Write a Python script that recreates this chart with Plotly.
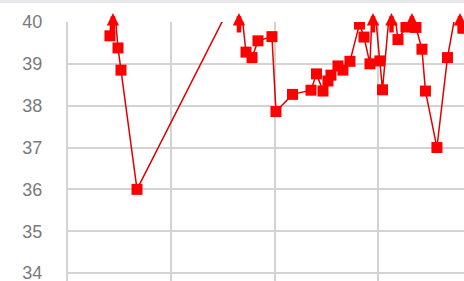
import plotly.graph_objects as go

# x positions (arbitrary numeric units; gridlines every 10)
x_vals = [4.06, 4.35, 4.84, 5.13, 6.68, 16.55, 17.23, 17.81, 18.39, 19.74, 20.13,
          21.73, 23.52, 24.05, 24.68, 25.16, 25.45, 26.13, 26.61, 27.29, 28.21,
          28.65, 29.23, 29.52, 30.19, 30.44, 31.31, 31.94, 32.71, 33.29, 33.68,
          34.26, 34.60, 35.71, 36.73, 37.94, 38.23]
y_vals = [39.67, 40.8, 39.38, 38.85, 36.0, 40.8, 39.28, 39.15, 39.55, 39.65, 37.86,
          38.27, 38.37, 38.76, 38.35, 38.59, 38.73, 38.95, 38.85, 39.06, 39.95,
          39.64, 39.0, 40.8, 39.07, 38.38, 40.8, 39.58, 39.88, 40.8, 39.87,
          39.35, 38.35, 37.0, 39.15, 40.8, 39.85]
y_ticks = [34, 35, 36, 37, 38, 39, 40]

Y_MIN, Y_MAX = 33.81, 40.0
X_MIN, X_MAX = 0.0, 38.33

over_x = [x for x, y in zip(x_vals, y_vals) if y > Y_MAX]

RED = "#ff0000"
fig = go.Figure()
fig.add_trace(go.Scatter(
    x=x_vals, y=y_vals, mode="lines+markers",
    line=dict(color="#e00000", width=1.5),
    marker=dict(symbol="square", size=11, color=RED),
    showlegend=False, hoverinfo="skip"))

# overflow indicators: upward arrows above the top of the axis
annotations = [dict(x=x, y=Y_MAX, xref="x", yref="y", text="", showarrow=True,
                    ax=0, ay=21, axref="pixel", ayref="pixel", yshift=9,
                    arrowhead=2, arrowsize=0.55, arrowwidth=4.5, arrowcolor=RED,
                    standoff=0, startstandoff=0)
               for x in over_x]

fig.update_layout(
    width=464, height=281,
    margin=dict(l=68, r=0, t=22, b=0, autoexpand=False),
    paper_bgcolor="white", plot_bgcolor="white",
    hovermode=False,
    xaxis=dict(range=[X_MIN, X_MAX], dtick=10, tick0=0, showgrid=True,
               gridcolor="#d3d3d3", gridwidth=2, showticklabels=False,
               zeroline=False, showline=False, automargin=False),
    yaxis=dict(range=[Y_MIN, Y_MAX], tickvals=y_ticks,
               ticktext=[str(t) for t in y_ticks], showgrid=True,
               gridcolor="#d3d3d3", gridwidth=2, zeroline=False,
               showline=True, linecolor="#d3d3d3", linewidth=2,
               ticks="", ticklabelstandoff=20, automargin=False,
               ticklabeloverflow="allow",
               tickfont=dict(family="Liberation Sans, Arial", size=18,
                             color="#7a7a7a")),
    annotations=annotations,
    shapes=[dict(type="rect", xref="paper", yref="paper", x0=-0.2, x1=1.0,
                 y0=1 + 19 / 259, y1=1 + 22 / 259, fillcolor="#e8e8ec",
                 line=dict(width=0), layer="above")],
)
fig.write_html(
    "out.html",
    config={"displayModeBar": False, "staticPlot": True},
    post_script="document.body.style.margin='0';document.body.style.padding='0';"
                "document.body.style.overflow='hidden';",
)
